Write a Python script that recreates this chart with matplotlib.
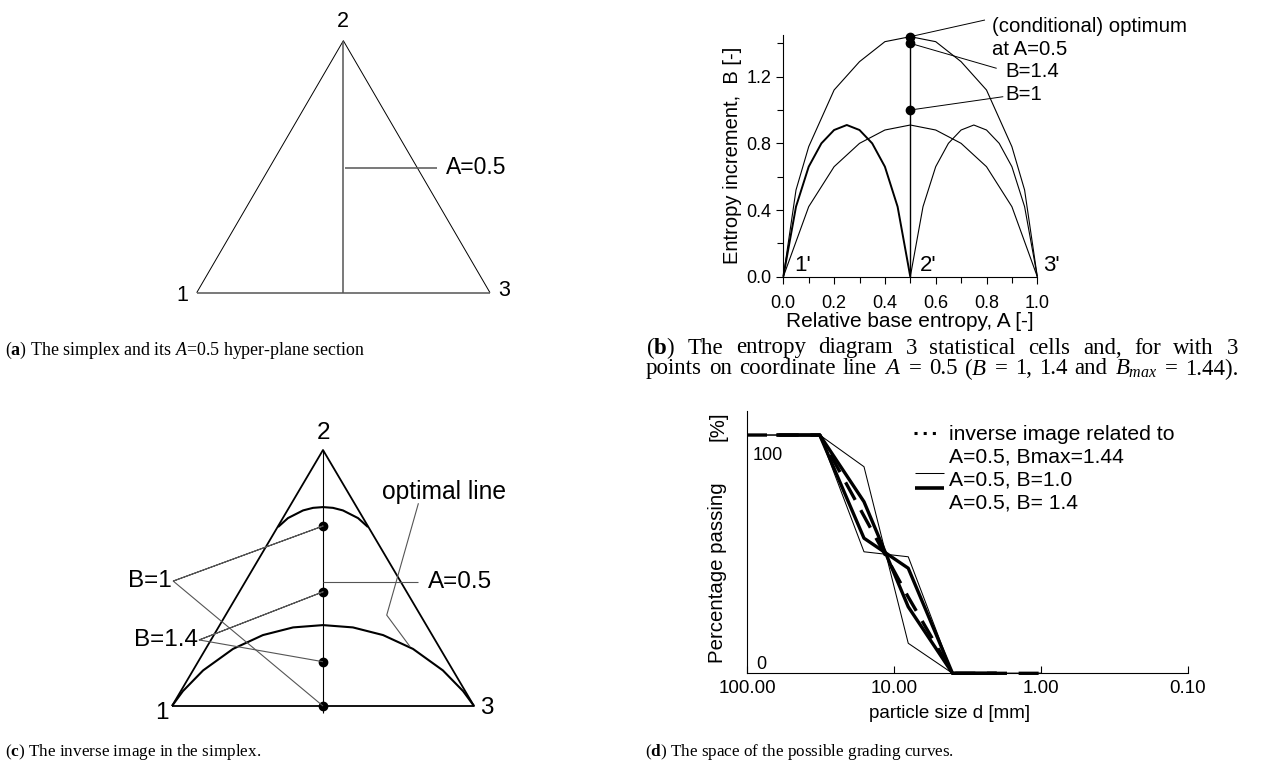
import matplotlib
matplotlib.use("Agg")
import matplotlib.pyplot as plt
from matplotlib.ticker import FixedLocator, NullLocator

plt.rcParams['font.family'] = ['Liberation Sans', 'DejaVu Sans']
plt.rcParams['mathtext.fontset'] = 'custom'
plt.rcParams['mathtext.rm'] = 'Liberation Serif'
plt.rcParams['mathtext.it'] = 'Liberation Serif:italic'
plt.rcParams['mathtext.bf'] = 'Liberation Serif:bold'
plt.rcParams['lines.solid_capstyle'] = 'butt'

W, H = 1265, 769

# simplex, x along the base (1 -> 3), y as fraction of the height
vert_x = [0.0, 0.5, 1.0]
vert_y = [0.0, 1.0, 0.0]
vert_labels = ['1', '2', '3']
section_a = 0.5

# (c) optimal line and the B=1.4 cap inside the simplex
opt_x = [0.0, 0.036, 0.103, 0.202, 0.301, 0.401, 0.5, 0.599, 0.699, 0.798, 0.897, 0.964, 1.0]
opt_y = [0.0, 0.058, 0.139, 0.223, 0.277, 0.307, 0.316, 0.307, 0.277, 0.223, 0.139, 0.058, 0.0]
cap_x = [0.351, 0.384, 0.434, 0.467, 0.5, 0.533, 0.566, 0.616, 0.649]
cap_y = [0.699, 0.734, 0.764, 0.774, 0.777, 0.774, 0.764, 0.734, 0.699]
inv_y = [0.703, 0.446, 0.173, 0.0]   # inverse image points on A=0.5

# (b) entropy diagram
outer_a = [0.0, 0.05, 0.1, 0.2, 0.3, 0.4, 0.5, 0.6, 0.7, 0.8, 0.9, 0.95, 1.0]
outer_b = [0.0, 0.52, 0.78, 1.12, 1.29, 1.41, 1.44, 1.41, 1.29, 1.12, 0.78, 0.52, 0.0]
half_a = [0.0, 0.05, 0.1, 0.15, 0.2, 0.25, 0.3, 0.35, 0.4, 0.45, 0.5]
right_a = [0.5, 0.55, 0.6, 0.65, 0.7, 0.75, 0.8, 0.85, 0.9, 0.95, 1.0]
wide_a = [0.0, 0.1, 0.2, 0.3, 0.4, 0.5, 0.6, 0.7, 0.8, 0.9, 1.0]
cell_b = [0.0, 0.42, 0.66, 0.80, 0.88, 0.91, 0.88, 0.80, 0.66, 0.42, 0.0]
b_points = [1.0, 1.4, 1.44]

# (d) grading curves, sieve sizes in mm and percentage passing
size_thin = [100, 32, 16, 8, 4, 1]
pass_b1_a = [100, 100, 86.7, 12.6, 0, 0]
pass_b1_b = [100, 100, 51.0, 48.9, 0, 0]
size_thick = [63, 32, 16, 8, 4, 2]
pass_b14_a = [100, 100, 72.0, 27.9, 0, 0]
pass_b14_b = [100, 100, 56.7, 44.1, 0, 0]
size_bmax = [100, 32, 16, 8, 4, 1]
pass_bmax = [100, 100, 66.0, 32.0, 0, 0]
d_ticks = [100, 10, 1, 0.1]
d_ticklabels = ['100.00', '10.00', '1.00', '0.10']

fig = plt.figure(figsize=(W / 100, H / 100), dpi=100)


def px_axes(x0, y0, x1, y1):
    # axes from pixel box (left, top, right, bottom)
    return fig.add_axes([x0 / W, 1 - y1 / H, (x1 - x0) / W, (y1 - y0) / H])


# ---------------- (a) simplex with A=0.5 section
ax = px_axes(196.7, 40.7, 490, 292.7)
ax.set_xlim(0, 1)
ax.set_ylim(0, 1)
ax.axis('off')
ax.plot([vert_x[0], vert_x[1], vert_x[2]], [vert_y[0], vert_y[1], vert_y[2]],
        color='black', lw=0.7, clip_on=False)
ax.plot([vert_x[0], vert_x[2]], [vert_y[0], vert_y[2]], color='#555555', lw=1.1, clip_on=False)
ax.plot([section_a, section_a], [0, 1], color='#555555', lw=1.1, clip_on=False)
ax.plot([0.506, 0.82], [0.496, 0.496], color='#555555', lw=1.1, clip_on=False)
ax.text(0.85, 0.496, 'A=0.5', fontsize=16.5, va='center', ha='left')
for lx, ly, s in zip([-0.048, 0.498, 1.049], [-0.013, 1.075, 0.007], vert_labels):
    ax.text(lx, ly, s, fontsize=15.5, ha='center', va='center')

# ---------------- (c) inverse image in the simplex
ax = px_axes(172, 450, 474, 706)
ax.set_xlim(0, 1)
ax.set_ylim(0, 1)
ax.axis('off')
ax.plot(vert_x + [vert_x[0]], vert_y + [vert_y[0]], color='black', lw=1.3, clip_on=False)
ax.plot([section_a, section_a], [-0.027, 1], color='black', lw=0.8, clip_on=False)
ax.plot(opt_x, opt_y, color='black', lw=1.5, clip_on=False)
ax.plot(cap_x, cap_y, color='black', lw=1.5, clip_on=False)
ax.plot([section_a] * len(inv_y), inv_y, 'o', color='black', ms=6, clip_on=False)
lead = dict(color='#555555', lw=0.8, clip_on=False)
ax.plot([0.004, section_a, 0.004, section_a], [0.488, inv_y[0], 0.488, inv_y[3]], **lead)
ax.plot([0.09, section_a, 0.09, section_a], [0.258, inv_y[1], 0.258, inv_y[2]], **lead)
ax.plot([section_a, 0.815], [0.486, 0.486], **lead)
ax.plot([0.816, 0.711, 0.788], [0.792, 0.355, 0.232], **lead)
ax.text(0.848, 0.486, 'A=0.5', fontsize=17.5, va='center', ha='left')
ax.text(0.694, 0.837, 'optimal line', fontsize=17.7, va='center', ha='left')
ax.text(0.0, 0.488, 'B=1', fontsize=17.5, va='center', ha='right')
ax.text(0.085, 0.258, 'B=1.4', fontsize=17.5, va='center', ha='right')
for lx, ly, s in zip([-0.034, 0.5, 1.042], [-0.027, 1.066, -0.008], vert_labels):
    ax.text(lx, ly, s, fontsize=17.5, ha='center', va='center')

# ---------------- (b) entropy diagram
ax = px_axes(783.3, 35, 1037.3, 276.7)
ax.set_xlim(0, 1)
ax.set_ylim(0, 1.45)
for s in ('top', 'right'):
    ax.spines[s].set_visible(False)
for s in ('left', 'bottom'):
    ax.spines[s].set_linewidth(0.8)
ax.plot(outer_a, outer_b, color='black', lw=0.8, clip_on=False)
ax.plot(half_a, cell_b, color='black', lw=1.4, clip_on=False)
ax.plot(right_a, cell_b, color='black', lw=0.8, clip_on=False)
ax.plot(wide_a, cell_b, color='black', lw=0.8, clip_on=False)
ax.plot([section_a, section_a], [0, max(b_points)], color='black', lw=1.0)
ax.plot([section_a] * 3, b_points, 'o', color='black', ms=6, clip_on=False)
ax.plot([section_a, 0.794], [b_points[2], 1.54], color='black', lw=0.7, clip_on=False)
ax.plot([section_a, 0.840], [b_points[1], 1.25], color='black', lw=0.7, clip_on=False)
ax.plot([section_a, 0.866], [b_points[0], 1.08], color='black', lw=0.7, clip_on=False)
ax.text(0.820, 1.50, '(conditional) optimum', fontsize=14.7, va='center', ha='left', clip_on=False)
ax.text(0.820, 1.364, 'at A=0.5', fontsize=14.7, va='center', ha='left')
ax.text(0.873, 1.23, 'B=1.4', fontsize=14.7, va='center', ha='left')
ax.text(0.873, 1.094, 'B=1', fontsize=14.7, va='center', ha='left')
for lx, s in zip([0.045, 0.538, 1.024], ["1'", "2'", "3'"]):
    ax.text(lx, 0.034, s, fontsize=16, ha='left', va='baseline')
ax.xaxis.set_major_locator(FixedLocator([0, 0.2, 0.4, 0.6, 0.8, 1.0]))
ax.xaxis.set_minor_locator(FixedLocator([0.1, 0.3, 0.5, 0.7, 0.9]))
ax.yaxis.set_major_locator(FixedLocator([0, 0.4, 0.8, 1.2]))
ax.yaxis.set_minor_locator(FixedLocator([0.2, 0.6, 1.0, 1.4]))
ax.tick_params(which='both', direction='out', width=0.8, labelsize=13)
ax.tick_params(which='major', length=5)
ax.tick_params(which='minor', length=4)
ax.tick_params(axis='x', pad=8)
ax.set_xticklabels(['0.0', '0.2', '0.4', '0.6', '0.8', '1.0'])
ax.set_yticklabels(['0.0', '0.4', '0.8', '1.2'])
ax.set_xlabel('Relative base entropy, A [-]', fontsize=15, labelpad=0)
ax.set_ylabel('Entropy increment,  B [-]', fontsize=14.5, labelpad=3)

# ---------------- (d) grading curves
ax = px_axes(747, 411.2, 1188, 673.3)
ax.set_xscale('log')
ax.set_xlim(100, 0.1)
ax.set_ylim(0, 110)
for s in ('top', 'right'):
    ax.spines[s].set_visible(False)
for s in ('left', 'bottom'):
    ax.spines[s].set_linewidth(0.8)
ax.plot(size_thin, pass_b1_a, color='black', lw=0.75, clip_on=False)
ax.plot(size_thin, pass_b1_b, color='black', lw=0.75, clip_on=False)
ax.plot(size_bmax, pass_bmax, color='black', lw=2.4, dashes=(6, 3.5), clip_on=False)
ax.plot(size_thick, pass_b14_a, color='black', lw=2.4, clip_on=False)
ax.plot(size_thick, pass_b14_b, color='black', lw=2.4, clip_on=False)
ax.xaxis.set_major_locator(FixedLocator(d_ticks))
ax.xaxis.set_minor_locator(NullLocator())
ax.set_xticklabels(d_ticklabels)
ax.yaxis.set_major_locator(NullLocator())
ax.yaxis.set_minor_locator(NullLocator())
ax.tick_params(axis='x', direction='in', length=5, width=0.8, labelsize=13.5, pad=5)
ax.text(0.012, 91.6, '100', fontsize=13, ha='left', va='center',
        transform=ax.get_yaxis_transform())
ax.text(0.02, 3.5, '0', fontsize=13, ha='left', va='center',
        transform=ax.get_yaxis_transform())
ax.text(0.460, -0.152, 'particle size d [mm]', fontsize=13.5, ha='center', va='center',
        transform=ax.transAxes)
ax.text(-0.066, 0.383, 'Percentage passing', fontsize=14.7, rotation=90,
        ha='center', va='center', transform=ax.transAxes)
ax.text(-0.066, 0.941, '[%]', fontsize=14.7, rotation=90,
        ha='center', va='center', transform=ax.transAxes)
# legend drawn by hand
ax.plot([0.378, 0.436], [0.917, 0.917], color='black', lw=2.2, dashes=(1.0, 2.0),
        transform=ax.transAxes, clip_on=False)
ax.plot([0.381, 0.447], [0.765, 0.765], color='black', lw=0.75,
        transform=ax.transAxes, clip_on=False)
ax.plot([0.381, 0.447], [0.706, 0.706], color='black', lw=2.6,
        transform=ax.transAxes, clip_on=False)
for ty, s in zip([0.910, 0.826, 0.738, 0.650],
                 ['inverse image related to', 'A=0.5, Bmax=1.44', 'A=0.5, B=1.0', 'A=0.5, B= 1.4']):
    ax.text(0.457, ty, s, fontsize=15.2, ha='left', va='center', transform=ax.transAxes)

# ---------------- captions
cap = dict(family='Liberation Serif', va='center', ha='left')


def fig_text(x, y, s, size):
    return fig.text(x / W, 1 - y / H, s, fontsize=size, **cap)


def justified(words, x0, x1, y, size):
    r = fig.canvas.get_renderer()
    items = [fig_text(x0, y, w, size) for w in words]
    widths = [t.get_window_extent(r).width for t in items]
    gap = (x1 - x0 - sum(widths)) / (len(words) - 1)
    x = x0
    for t, w in zip(items, widths):
        t.set_x(x / W)
        x += w + gap


fig_text(5, 350, r'($\mathbf{a}$) The simplex and its $A$=0.5 hyper-plane section', 12.9)
justified([r'($\mathbf{b}$)', 'The', 'entropy', 'diagram', '3', 'statistical', 'cells',
           'and,', 'for', 'with', '3'], 646, 1238, 348, 16.5)
justified(['points', 'on', 'coordinate', 'line', '$A$', '=', '0.5', '($B$', '=', '1,', '1.4',
           'and', '$B_{max}$', '=', '1.44).'], 646, 1238, 369, 16.5)
fig_text(5, 752, r'($\mathbf{c}$) The inverse image in the simplex.', 12.3)
fig_text(645, 752, r'($\mathbf{d}$) The space of the possible grading curves.', 12.3)

fig.savefig('out.png', dpi=100)
